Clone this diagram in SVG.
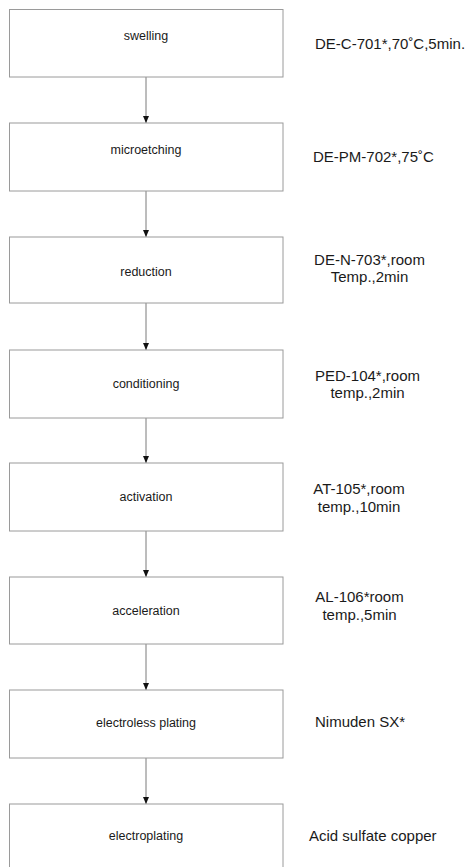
<svg xmlns="http://www.w3.org/2000/svg" width="466" height="867" viewBox="0 0 466 867">
  <style>
    .box { fill: #ffffff; stroke: #9a9a9a; stroke-width: 1; }
    .step { font-family: "Liberation Sans", Arial, sans-serif; font-size: 12.5px; fill: #1a1a1a; text-anchor: middle; }
    .cond { font-family: "Liberation Sans", Arial, sans-serif; font-size: 15px; fill: #1a1a1a; }
    .mid { text-anchor: middle; }
    .conn { stroke: #7a7a7a; stroke-width: 1; fill: none; marker-end: url(#arrow); }
  </style>
  <defs>
    <marker id="arrow" markerUnits="userSpaceOnUse" markerWidth="8" markerHeight="7" refX="7" refY="3" orient="auto">
      <path d="M0,0 L7,3 L0,6 Z" fill="#111111"/>
    </marker>
  </defs>
  <rect width="466" height="867" fill="#ffffff"/>

  <g id="connectors">
    <line class="conn" x1="146" y1="77" x2="146" y2="123"/>
    <line class="conn" x1="146" y1="191" x2="146" y2="237"/>
    <line class="conn" x1="146" y1="303" x2="146" y2="350"/>
    <line class="conn" x1="146" y1="418" x2="146" y2="463"/>
    <line class="conn" x1="146" y1="531" x2="146" y2="577"/>
    <line class="conn" x1="146" y1="644" x2="146" y2="690"/>
    <line class="conn" x1="146" y1="758" x2="146" y2="804"/>
  </g>

  <g id="swelling">
    <rect class="box" x="9.5" y="9.5" width="273.5" height="67.5"/>
    <text class="step" x="146" y="39.5">swelling</text>
    <text class="cond" x="315" y="49">DE-C-701*,70˚C,5min.</text>
  </g>
  <g id="microetching">
    <rect class="box" x="9.5" y="123" width="273.5" height="68"/>
    <text class="step" x="146" y="153.5">microetching</text>
    <text class="cond" x="313" y="162">DE-PM-702*,75˚C</text>
  </g>
  <g id="reduction">
    <rect class="box" x="9.5" y="237" width="273.5" height="66"/>
    <text class="step" x="146" y="275.5">reduction</text>
    <text class="cond mid" x="369.5" y="264.5">DE-N-703*,room</text>
    <text class="cond mid" x="369.5" y="281.5">Temp.,2min</text>
  </g>
  <g id="conditioning">
    <rect class="box" x="9.5" y="350" width="273.5" height="68"/>
    <text class="step" x="146" y="387.5">conditioning</text>
    <text class="cond mid" x="367.5" y="380.5">PED-104*,room</text>
    <text class="cond mid" x="367.5" y="397.5">temp.,2min</text>
  </g>
  <g id="activation">
    <rect class="box" x="9.5" y="463" width="273.5" height="68"/>
    <text class="step" x="146" y="501">activation</text>
    <text class="cond mid" x="359" y="494">AT-105*,room</text>
    <text class="cond mid" x="359" y="511.5">temp.,10min</text>
  </g>
  <g id="acceleration">
    <rect class="box" x="9.5" y="577" width="273.5" height="67"/>
    <text class="step" x="146" y="615">acceleration</text>
    <text class="cond mid" x="359.5" y="602">AL-106*room</text>
    <text class="cond mid" x="359.5" y="619.5">temp.,5min</text>
  </g>
  <g id="electroless-plating">
    <rect class="box" x="9.5" y="690" width="273.5" height="68"/>
    <text class="step" x="146" y="727">electroless plating</text>
    <text class="cond" x="315" y="727">Nimuden SX*</text>
  </g>
  <g id="electroplating">
    <rect class="box" x="9.5" y="804" width="273.5" height="70"/>
    <text class="step" x="146" y="840">electroplating</text>
    <text class="cond" x="309" y="840.5">Acid sulfate copper</text>
  </g>
</svg>
